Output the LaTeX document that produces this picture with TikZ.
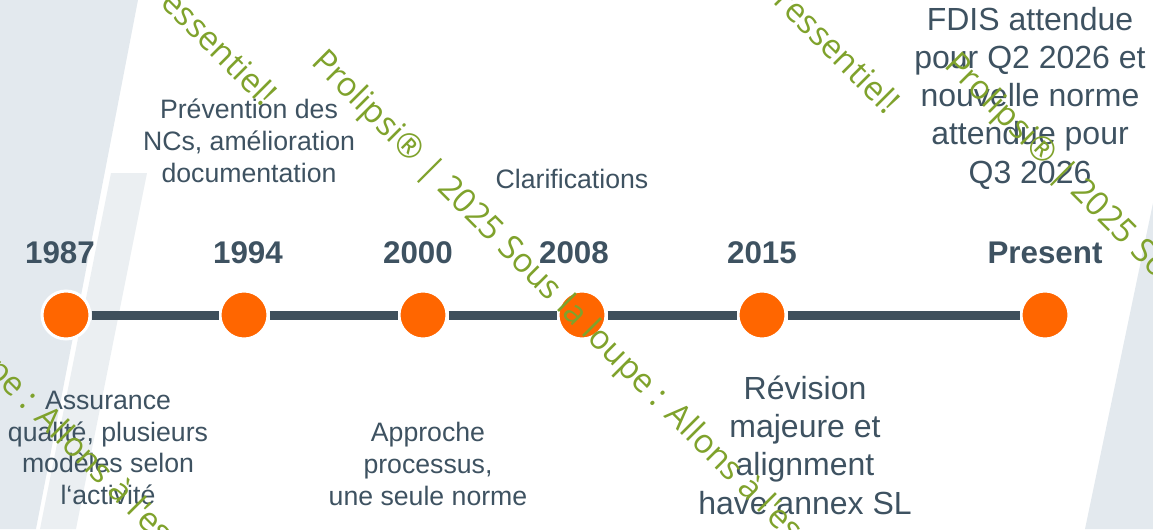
\documentclass[tikz,border=0pt]{standalone}
\usepackage{fontspec}
\setmainfont{Liberation Sans}
\newfontfamily\wmfont{Open Sans}
\usepackage{xcolor}
\usetikzlibrary{positioning}
\definecolor{slate}{HTML}{3E5261}
\definecolor{barline}{HTML}{3F505C}
\definecolor{dot}{HTML}{FF6600}
\definecolor{bandA}{HTML}{E3E9EE}
\definecolor{bandB}{HTML}{EBEFF2}
\definecolor{wmgreen}{HTML}{7FA22C}

\begin{document}
\begin{tikzpicture}[
    x=0.75pt, y=-0.75pt,
    node distance=19pt,
    milestone/.style={circle, fill=dot, draw=white, line width=2.25pt, minimum size=36pt, inner sep=0pt},
    year/.style={font=\fontsize{23.5}{28}\selectfont\bfseries, text=slate, inner sep=0pt},
    note/.style={font=\fontsize{20}{23.8}\selectfont, text=slate, align=center, inner sep=0pt},
    bignote/.style={font=\fontsize{24}{28.7}\selectfont, text=slate, align=center, inner sep=0pt},
    barstyle/.style={line width=6.75pt, draw=barline},
    wmark/.style={font=\wmfont\fontsize{25}{30}\selectfont, text=wmgreen, rotate=-45, inner sep=0pt}
]
    \useasboundingbox (0,0) rectangle (1153,529);

    % Background bands
    \fill[bandA] (0,0) -- (138,0) -- (36,529) -- (0,529) -- cycle;
    \fill[bandB] (111,173) -- (147,173) -- (76,529) -- (40,529) -- cycle;
    \fill[bandA] (1153,203) -- (1153,529) -- (1085,529) -- cycle;

    % Milestones
    \node[milestone] (c1987) at (66,315) {};
    \node[milestone] (c1994) at (244,315) {};
    \node[milestone] (c2000) at (423,315) {};
    \node[milestone] (c2008) at (582,315) {};
    \node[milestone] (c2015) at (762,315) {};
    \node[milestone] (cnow) at (1045,315) {};

    % Timeline bar
    \draw[barstyle] (c1987) -- (c1994) -- (c2000) -- (c2008) -- (c2015) -- (cnow);

    % Years
    \node[year, above=of c1987, xshift=-4.5pt] (y1987) {1987};
    \node[year, above=of c1994, xshift=3pt] (y1994) {1994};
    \node[year, above=of c2000, xshift=-3.75pt] (y2000) {2000};
    \node[year, above=of c2008, xshift=-6pt] (y2008) {2008};
    \node[year, above=of c2015] (y2015) {2015};
    \node[year, above=of cnow] (ynow) {Present};

    % Notes above the bar
    \node[note] (n1994) at (249,141) {Prévention des\\NCs, amélioration\\documentation};
    \node[note] (n2008) at (572,178.5) {Clarifications};
    \node[bignote] (nnow) at (1030,98) {FDIS attendue\\pour Q2 2026 et\\nouvelle norme\\attendue pour\\Q3 2026};

    % Notes below the bar
    \node[note] (n1987) at (108,448) {Assurance\\qualité, plusieurs\\modèles selon\\l‘activité};
    \node[note] (n2000) at (428,464) {Approche\\processus,\\une seule norme};
    \node[bignote] (n2015) at (805,445) {Révision\\majeure et\\alignment\\have annex SL};

    % Watermark
    \begin{scope}
        \clip (0,0) rectangle (1153,529);
        \node[wmark, anchor=base west] (wm1) at (310,63) {Prolipsi® | 2025 Sous la loupe : Allons à l'essentiel!};
        \node[wmark, anchor=base west] (wm2) at (943,66) {Prolipsi® | 2025 Sous la loupe : Allons à l'essentiel!};
        \node[wmark, anchor=base west] (wm3) at (-320,66) {Prolipsi® | 2025 Sous la loupe : Allons à l'essentiel!};
        \node[wmark, anchor=base east] (wm4) at (263,108) {Prolipsi® | 2025 Sous la loupe : Allons à l'essentiel!};
        \node[wmark, anchor=base east] (wm5) at (886,116) {Prolipsi® | 2025 Sous la loupe : Allons à l'essentiel!};
    \end{scope}
\end{tikzpicture}
\end{document}
